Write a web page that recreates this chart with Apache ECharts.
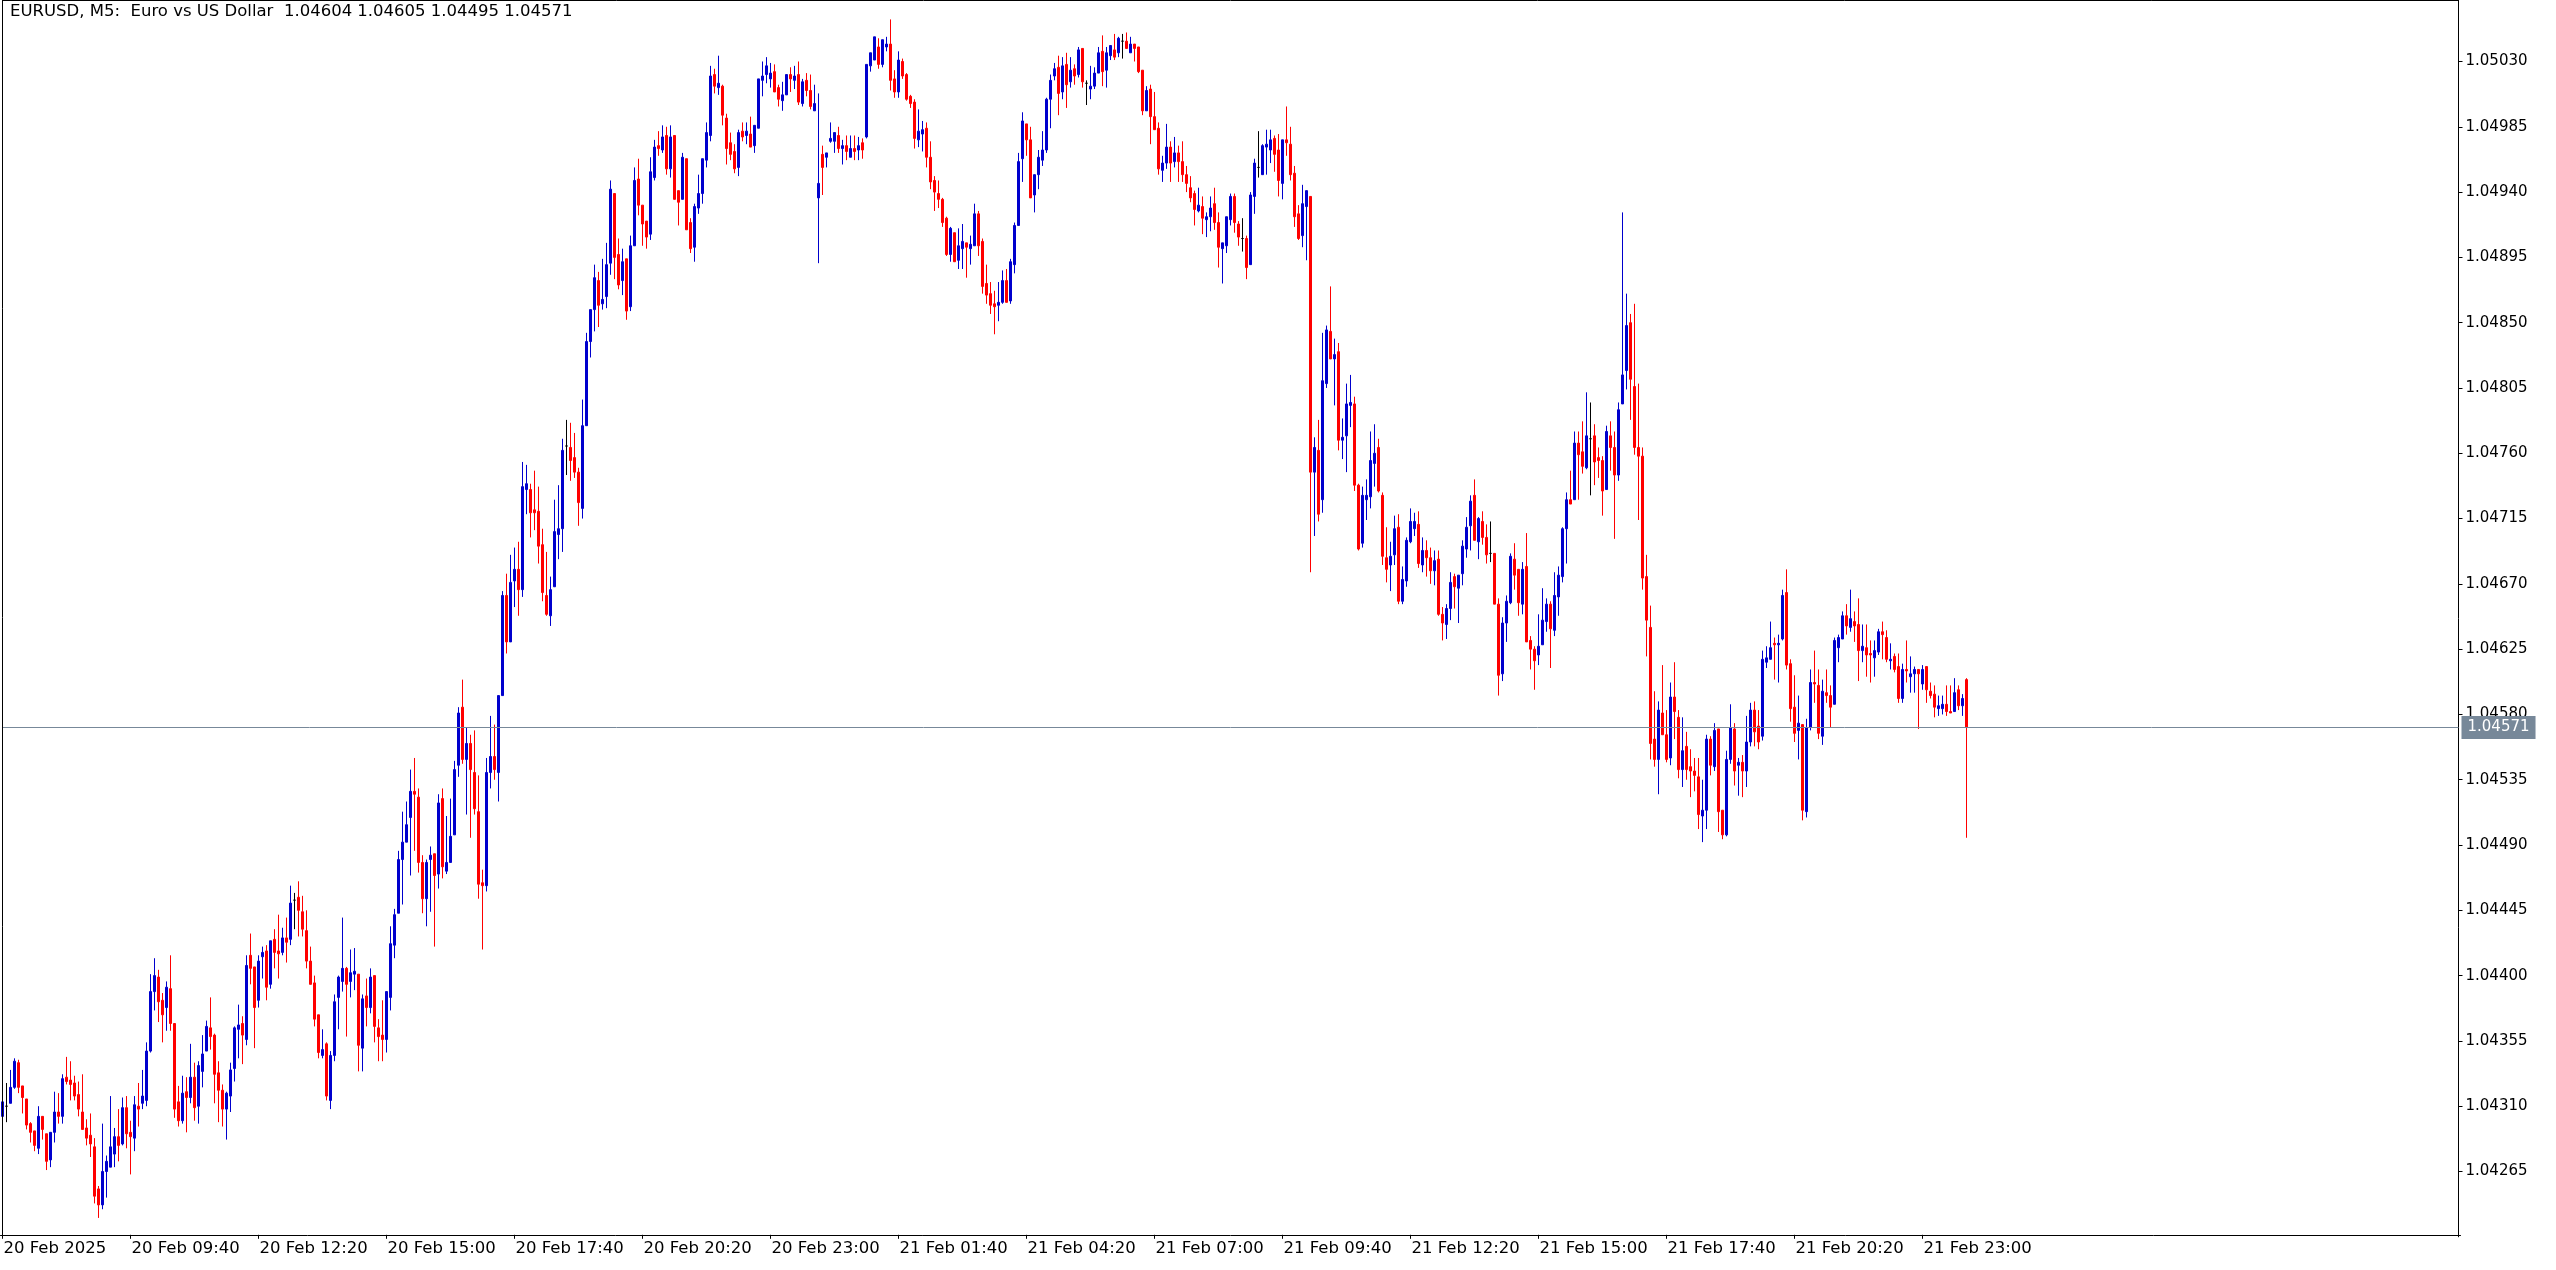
<!DOCTYPE html>
<html><head><meta charset="utf-8">
<script src="https://cdn.jsdelivr.net/npm/echarts@6/dist/echarts.min.js"></script>
<style>html,body{margin:0;padding:0;background:#fff;overflow:hidden}#c{width:2556px;height:1270px}</style>
</head><body><div id="c"></div>
<script>
// ---------- DATA ----------
const symbolTitle = 'EURUSD, M5:  Euro vs US Dollar';
const BASE = 1.04;          // prices below are in points (0.00001) above BASE
const PT = 0.00001;
const startUTC = [2025, 1, 20, 7, 0]; // 20 Feb 2025 07:00, M5 bars
const stepMinutes = 5;
const totalSlots = 615;     // bar slots incl. empty right margin
const xTickLabels = ['20 Feb 2025','20 Feb 09:40','20 Feb 12:20','20 Feb 15:00','20 Feb 17:40','20 Feb 20:20','20 Feb 23:00','21 Feb 01:40','21 Feb 04:20','21 Feb 07:00','21 Feb 09:40','21 Feb 12:20','21 Feb 15:00','21 Feb 17:40','21 Feb 20:20','21 Feb 23:00'];
const xTickEvery = 32;
const yTickStep = 0.00045;
const yMin = 1.04220;
const yMax = 1.0507238;

const openPts = [
303,310,312,323,340,324,315,298,293,281, 303,291,273,292,306,303,330,328,326,318,
306,295,290,282,253,242,265,268,277,289, 284,309,292,288,310,312,314,348,389,399,
383,378,391,367,313,300,320,316,330,310, 334,348,364,359,333,321,308,317,336,363,
367,356,414,406,383,413,417,394,425,417, 416,426,425,452,454,444,431,410,395,373,
345,353,314,345,385,396,405,396,401,401, 350,386,378,400,364,359,356,385,421,443,
480,492,509,527,523,478,453,480,484,470, 522,472,478,497,545,585,549,560,540,513,
464,462,540,551,540,593,662,630,672,680, 666,735,735,721,720,697,662,648,668,704,
708,765,764,757,747,722,779,837,859,879, 863,868,891,939,897,879,894,861,903,949,
931,920,911,950,972,969,979,956,979,941, 935,963,919,902,929,939,962,979,1021,1012,
1013,991,974,968,957,982,979,980,972,984, 1017,1021,1018,1023,1012,1003,1007,1021,1017,1021,
1001,1017,1010,996,936,966,964,975,975,979, 970,972,964,970,969,974,978,1027,1031,1040,
1028,1040,1042,1018,1009,1030,1021,1006,1002,976, 980,984,964,948,939,935,922,897,912,893,
901,905,901,903,925,906,877,870,863,862, 864,879,865,890,917,963,987,976,938,952,
962,969,1004,1020,1026,1009,1028,1016,1025,1021, 1039,1015,1011,1013,1022,1037,1024,1034,1038,1036,
1044,1044,1036,1042,1040,1024,996,1011,992,984, 955,960,971,961,967,961,952,943,939,927,
930,921,923,932,919,901,903,921,937,918, 908,908,890,937,957,952,971,969,977,969,
946,976,973,953,925,910,930,937,747,762, 728,808,844,825,830,769,772,793,794,738,
698,728,730,753,764,731,688,683,690,709, 658,672,699,708,711,683,693,688,679,687,
649,642,653,675,667,677,694,710,731,699, 713,702,691,691,656,608,643,657,687,680,
656,682,631,625,621,628,644,656,638,661, 675,708,728,728,767,761,750,770,772,757,
755,735,772,764,745,794,817,850,806,764, 758,675,640,563,549,581,566,550,592,578,
542,558,544,541,537,510,514,563,544,570, 514,497,549,570,545,547,541,561,583,572,
565,616,618,629,628,632,664,615,585,569, 573,513,571,602,600,565,595,593,587,626,
632,648,640,644,642,624,626,622,619,623, 637,633,617,620,613,591,611,606,608,611,
601,613,596,594,584,584,587,582,582,597, 586,604
];
const highPts = [
313,326,335,343,342,324,315,299,293,310, 303,291,292,320,319,332,344,341,331,327,
332,301,305,288,255,298,276,317,295,308, 316,317,300,317,326,335,354,401,412,404,
388,396,414,367,324,331,330,353,340,341, 359,369,385,360,341,325,320,340,365,380,
372,414,429,406,414,420,421,424,432,442, 433,440,462,457,465,455,445,420,400,373,
363,354,348,387,400,440,406,418,419,401, 387,398,405,400,370,383,389,434,446,486,
513,520,542,550,529,483,480,489,484,525, 529,510,522,548,585,604,571,566,569,538,
473,550,579,573,593,665,677,690,695,699, 754,752,739,748,737,708,692,675,728,738,
770,783,781,774,750,797,843,859,890,885, 894,905,948,939,908,901,894,910,957,963,
931,920,964,976,982,986,985,986,979,941, 967,963,922,932,952,963,988,1027,1025,1034,
1014,994,981,973,983,988,988,992,986,1018, 1030,1033,1029,1028,1014,1016,1021,1026,1027,1030,
1018,1022,1021,1014,1008,972,967,988,981,985, 976,979,979,979,978,977,1028,1036,1047,1046,
1045,1047,1059,1024,1037,1032,1022,1007,1004,997, 989,988,975,951,948,936,923,916,912,915,
918,905,910,932,927,908,890,878,872,878, 886,887,894,919,967,995,987,985,952,969,
982,1005,1021,1029,1034,1033,1036,1033,1028,1040, 1039,1017,1027,1026,1040,1048,1040,1041,1049,1047,
1049,1050,1047,1042,1040,1024,1013,1014,1009,988, 965,987,975,978,972,975,958,951,941,943,
937,926,937,943,926,905,923,939,939,920, 922,910,940,963,982,973,983,983,979,980,
976,999,985,958,931,945,941,937,771,783, 843,848,875,839,836,784,808,814,799,739,
737,742,775,780,770,733,709,699,717,718, 682,702,722,719,720,702,700,695,693,693,
654,656,678,677,676,700,716,731,742,716, 720,711,713,691,660,647,662,691,698,680,
685,705,634,627,649,667,660,658,678,682, 709,733,748,775,775,782,802,795,780,764,
758,779,782,775,795,926,870,856,863,808, 764,690,655,596,589,614,583,602,616,583,
578,568,556,550,550,535,566,565,574,570, 514,555,587,574,550,552,579,588,589,583,
624,627,644,633,635,666,680,618,607,593, 573,577,611,624,611,604,611,600,633,635,
651,656,666,651,660,642,642,631,631,639, 644,638,629,622,622,615,631,620,613,611,
614,613,602,600,593,593,600,600,605,600, 594,605
];
const lowPts = [
303,299,312,322,319,305,294,285,279,277, 287,266,268,285,298,298,325,314,314,303,
294,283,275,243,233,239,247,268,268,272, 283,281,263,279,296,308,310,347,376,368,
354,362,362,302,296,298,292,312,300,298, 323,348,349,312,299,296,287,306,327,343,
339,352,394,350,378,398,383,391,405,398, 414,409,421,432,427,427,405,394,365,343,
343,314,308,341,363,389,358,385,390,334, 334,365,374,354,341,341,347,376,412,443,
449,492,469,486,471,443,434,444,420,460, 467,470,478,497,537,546,511,495,511,453,
418,458,529,535,520,593,622,630,654,648, 661,718,702,707,684,658,648,641,668,687,
692,745,741,743,710,715,779,826,844,847, 859,860,883,880,873,869,852,858,903,924,
903,901,907,948,965,967,952,950,935,917, 935,914,898,892,925,932,957,975,1008,1007,
986,959,962,953,951,975,973,971,967,984, 1006,1015,1012,1009,999,996,1007,1009,1011,1000,
999,1006,997,996,891,938,957,974,967,967, 959,962,964,962,962,963,977,1023,1031,1025,
1026,1037,1010,1005,1005,1018,1003,998,970,971, 968,957,942,927,929,916,896,892,892,887,
887,881,890,903,896,870,863,856,842,851, 863,864,863,884,917,947,965,936,926,942,
958,967,984,1017,993,1004,998,1012,1014,1019, 1012,1000,1004,1011,1022,1013,1012,1031,1031,1033,
1032,1039,1036,1030,1022,993,996,973,983,952, 947,956,947,957,947,947,940,933,917,926,
911,909,913,914,888,877,898,917,912,903, 899,880,890,925,950,952,952,960,954,937,
935,965,948,916,907,902,893,678,703,713, 719,805,825,793,762,756,747,778,734,693,
695,714,722,737,733,683,671,665,683,656, 656,668,698,703,681,678,675,670,669,648,
631,632,645,653,643,669,688,693,700,687, 697,684,685,656,593,603,630,656,666,648,
649,630,611,597,614,628,637,612,634,648, 671,684,725,728,728,746,749,731,738,743,
717,735,748,701,741,794,804,783,759,714, 666,620,549,544,525,566,547,545,563,536,
530,535,523,527,501,492,501,538,541,499, 494,496,546,531,524,523,530,558,558,556,
562,612,618,604,602,631,611,575,561,549, 507,509,569,588,563,559,588,571,587,616,
632,635,637,630,603,616,606,602,606,621, 618,616,611,609,588,588,602,595,595,570,
597,588,591,578,579,580,579,581,582,583, 579,495
];
const closePts = [
313,310,323,341,323,316,297,292,283,303, 294,272,292,306,303,329,327,325,317,308,
294,288,284,248,242,265,272,282,289,283, 309,291,289,311,308,317,348,389,400,382,
373,392,367,308,300,319,316,330,309,338, 346,365,358,332,321,308,319,335,364,366,
359,407,405,378,410,416,392,424,416,415, 426,423,450,452,445,432,410,394,370,347,
349,317,345,382,399,405,394,402,403,352, 384,378,399,365,358,356,389,422,442,480,
492,504,527,525,478,453,478,483,469,519, 475,478,496,542,581,549,560,542,515,463,
462,540,551,542,593,662,630,671,680,666, 737,739,719,719,696,664,649,666,706,708,
762,765,755,747,726,779,837,859,881,862, 866,890,942,895,876,892,858,903,948,931,
918,909,954,971,970,978,956,978,935,933, 964,914,901,930,939,963,981,1020,1013,1015,
993,970,966,956,981,978,982,971,986,1018, 1020,1027,1022,1009,1004,1007,1021,1018,1020,1002,
1016,1010,999,1001,946,957,967,977,981,970, 972,968,970,968,972,969,1028,1036,1047,1028,
1045,1042,1017,1009,1031,1020,1004,1001,977,982, 983,964,947,940,935,919,897,915,892,903,
906,902,904,925,903,875,869,862,861,864, 879,864,892,917,961,989,976,936,952,964,
969,1004,1017,1025,1008,1027,1014,1024,1020,1038, 1016,1015,1013,1022,1036,1023,1036,1041,1033,1046,
1044,1039,1042,1039,1023,996,1010,992,983,956, 960,971,960,967,961,952,946,936,928,931,
922,923,929,919,902,905,923,937,919,909, 908,888,938,960,957,972,973,976,966,948,
976,974,952,923,908,932,941,747,764,718, 810,845,825,828,769,771,794,795,738,694,
731,731,755,760,734,689,680,689,708,658, 673,700,713,713,684,693,688,679,686,649,
643,653,671,668,676,696,709,727,700,715, 702,690,691,656,607,643,658,689,676,657,
680,630,625,617,627,645,656,639,662,676, 708,728,725,767,759,751,772,770,754,755,
734,775,764,745,790,814,848,811,764,758, 674,645,560,549,583,566,549,592,582,542,
555,542,541,538,511,514,563,545,569,513, 497,549,571,541,547,541,561,583,568,561,
618,619,626,628,629,662,614,584,567,574, 514,571,602,601,567,596,593,585,631,633,
648,641,646,641,624,627,621,621,624,637, 635,618,618,611,591,611,610,608,611,608,
611,597,593,585,586,587,582,581,595,586, 591,571
];

// ---------- BUILD ----------
const FONT_FAMILY = '"DejaVu Sans", Verdana, sans-serif';
const AXIS_FONT = 15;
const TEXT_FONT = 16.5;
const BULL = '#0000CD', BEAR = '#FF0000', DOJI = '#000000', PRICE_LINE = '#778899';
const months = ['Jan','Feb','Mar','Apr','May','Jun','Jul','Aug','Sep','Oct','Nov','Dec'];
const pad2 = n => (n < 10 ? '0' : '') + n;
const t0 = Date.UTC(startUTC[0], startUTC[1], startUTC[2], startUTC[3], startUTC[4]);
const categories = [];
for (let i = 0; i < totalSlots; i++) {
  const d = new Date(t0 + i * stepMinutes * 60000);
  categories.push(d.getUTCDate() + ' ' + months[d.getUTCMonth()] + ' ' + pad2(d.getUTCHours()) + ':' + pad2(d.getUTCMinutes()));
}
const toPrice = v => +(BASE + v * PT).toFixed(5);
const data = openPts.map((o, i) => {
  const v = [toPrice(o), toPrice(closePts[i]), toPrice(lowPts[i]), toPrice(highPts[i])];
  if (o === closePts[i]) {
    return { value: v, itemStyle: { color: DOJI, color0: DOJI, borderColor: DOJI, borderColor0: DOJI } };
  }
  return v;
});
const L = openPts.length - 1;
const lastClose = toPrice(closePts[L]);
const headerText = symbolTitle + '  ' + [openPts[L], highPts[L], lowPts[L], closePts[L]].map(v => toPrice(v).toFixed(5)).join(' ');
const showTick = (idx) => idx % xTickEvery === 0 && (idx / xTickEvery) < xTickLabels.length;

const chart = echarts.init(document.getElementById('c'), null, { renderer: 'canvas', width: 2556, height: 1270 });
chart.setOption({
  animation: false,
  backgroundColor: '#ffffff',
  grid: { left: 0.5, right: 95.5, top: 0, bottom: 33.2, outerBoundsMode: 'none', containLabel: false },
  xAxis: {
    type: 'category',
    data: categories,
    boundaryGap: true,
    offset: -2,
    axisLine: { show: true, lineStyle: { color: '#000', width: 1 } },
    axisTick: { show: true, alignWithLabel: true, interval: (i) => showTick(i), length: 4, lineStyle: { color: '#000' } },
    axisLabel: {
      interval: (i) => showTick(i),
      formatter: (val, i) => showTick(i) ? xTickLabels[i / xTickEvery] : '',
      align: 'left', color: '#000', fontFamily: FONT_FAMILY, fontSize: TEXT_FONT, margin: 5, padding: [0, 0, 0, 1]
    },
    splitLine: { show: false }
  },
  yAxis: {
    type: 'value',
    position: 'right',
    min: yMin, max: yMax, interval: yTickStep,
    offset: -2,
    axisLine: { show: true, lineStyle: { color: '#000', width: 1 } },
    axisTick: { show: true, length: 4, lineStyle: { color: '#000' } },
    axisLabel: {
      showMinLabel: false, showMaxLabel: false,
      formatter: v => v.toFixed(5),
      color: '#000', fontFamily: FONT_FAMILY, fontSize: AXIS_FONT, margin: 7
    },
    splitLine: { show: false }
  },
  series: [{
    type: 'candlestick',
    data: data,
    barWidth: 2,
    large: false,
    clip: true,
    z: 2,
    emphasis: { disabled: true },
    itemStyle: { color: BULL, color0: BEAR, borderColor: BULL, borderColor0: BEAR, borderWidth: 1 }
  }, {
    type: 'line',
    name: 'bid',
    z: 3,
    silent: true,
    clip: false,
    showSymbol: false,
    symbol: 'none',
    data: [[0, lastClose], [totalSlots - 1, lastClose]],
    lineStyle: { color: PRICE_LINE, width: 1, type: 'solid' },
    emphasis: { disabled: true },
    endLabel: {
      show: true, distance: 3,
      formatter: () => lastClose.toFixed(5),
      backgroundColor: PRICE_LINE, color: '#fff',
      fontFamily: FONT_FAMILY, fontSize: AXIS_FONT, padding: [4, 6, 4, 6]
    }
  }],
  graphic: [
    { type: 'line', z: 100, shape: { x1: 2.5, y1: 0, x2: 2.5, y2: 1235 }, style: { stroke: '#000', lineWidth: 1 } },
    { type: 'line', z: 100, shape: { x1: 2, y1: 0.5, x2: 2459, y2: 0.5 }, style: { stroke: '#000', lineWidth: 1 } },
    { type: 'text', z: 100, left: 10, top: 3, style: { text: headerText, fill: '#000', font: TEXT_FONT + 'px ' + FONT_FAMILY } }
  ]
});
</script>
</body></html>
